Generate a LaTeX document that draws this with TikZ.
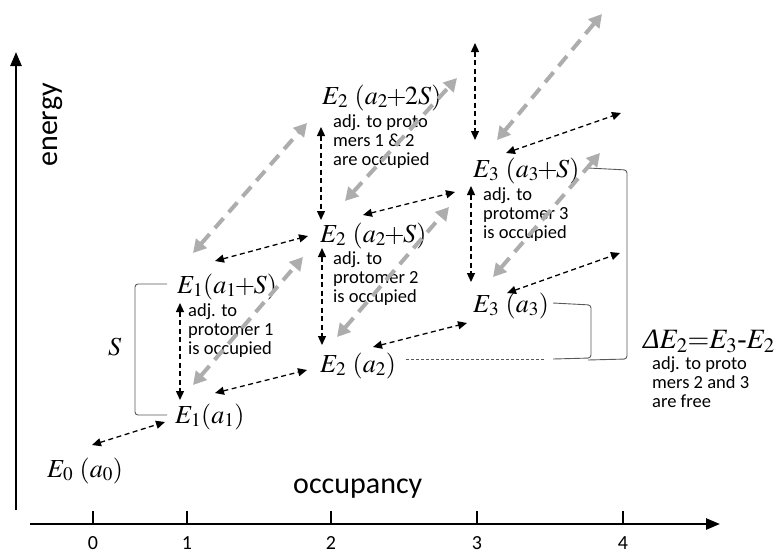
\documentclass[tikz,border=0pt]{standalone}
\usepackage{mathptmx}
\usepackage[no-math]{fontspec}
\setmainfont{Liberation Serif}
\setsansfont{Carlito}
\usepackage{tikz}
\usetikzlibrary{arrows.meta}
\newcommand{\corSeta}{black}
\newcommand{\corCinza}{black!32}
\newcommand{\corChave}{black!65}
\newcommand{\deltaIt}{\mbox{\itshape Δ}}
\newcommand{\mais}{\mkern-1mu{+}\mkern-1mu}
\tikzset{
  seta/.style={draw=\corSeta, line width=1.3pt, dash pattern=on 5pt off 3.5pt,
    {Triangle[length=9pt,width=8pt]}-{Triangle[length=9pt,width=8pt]}},
  cinza/.style={draw=\corCinza, line width=4pt, dash pattern=on 13pt off 8pt,
    {Triangle[length=13pt,width=14pt]}-{Triangle[length=13pt,width=14pt]}},
  chave/.style={draw=\corChave, line width=0.9pt, rounded corners=3pt},
  nivel/.style={anchor=base west, inner sep=0pt, font=\fontsize{26}{26}\selectfont},
  nota/.style={anchor=base west, inner sep=0pt, align=left,
    font=\sffamily\fontsize{18.5}{19}\selectfont},
  eixo/.style={line width=2.5pt, -{Triangle[length=14pt,width=11pt]}},
}
\begin{document}
\begin{tikzpicture}[x=1pt, y=-1pt]
    \useasboundingbox (0,0) rectangle (783,554);

          % eixos
        \draw[eixo] (16,510) -- (16,52);
        \draw[eixo] (30,524) -- (720,524);
        \foreach \x/\t in {93/0, 187/1, 331/2, 477/3, 623/4} {
            \draw[line width=2pt] (\x,524) -- (\x,511);
            \node[anchor=base, inner sep=0pt, font=\sffamily\fontsize{20}{20}\selectfont] (tick\t) at (\x,549) {\t};
        }
        \node[rotate=90, inner sep=0pt, font=\sffamily\fontsize{30}{30}\selectfont] (energia) at (53,125) {energy};
        \node[anchor=base west, inner sep=0pt, font=\sffamily\fontsize{30}{30}\selectfont] (ocupacao) at (293,493) {occupancy};

          % niveis
        \node[nivel] (E0) at (47,477) {$E_0\ (a_0)$};
        \node[nivel] (E1) at (175,423) {$E_1(a_1)$};
        \node[nivel] (E1S) at (177,293) {$E_1(a_1\mais S)$};
        \node[nivel] (E2) at (320,372) {$E_2\ (a_2)$};
        \node[nivel] (E2S) at (320,242) {$E_2\ (a_2\mais S)$};
        \node[nivel] (E2SS) at (322,104) {$E_2\ (a_2\mais 2S)$};
        \node[nivel] (E3S) at (473,177) {$E_3\ (a_3\mais S)$};
        \node[nivel] (E3) at (473,312) {$E_3\ (a_3)$};
        \node[nivel, font=\fontsize{28}{28}\selectfont] (dE) at (643,348) {$\deltaIt E_2{=}E_3\mbox{-}E_2$};
        \node[nivel] (S) at (108,355) {$S$};

          % notas (ancoradas na ultima linha)
        \node[nota] (n1) at (188,354) {adj. to\\protomer 1\\is occupied};
        \node[nota] (n2) at (333,302) {adj. to\\protomer 2\\is occupied};
        \node[nota] (n3) at (333,165) {adj. to proto\\mers 1 \& 2\\are occupied};
        \node[nota] (n4) at (483,238) {adj. to\\protomer 3\\is occupied};
        \node[nota] (n5) at (652,407) {adj. to proto\\mers 2 and 3\\are free};

          % chaves
        \draw[chave] (167,284) -- (135,284) -- (135,415) -- (167,415);
        \draw[chave] (588,168) -- (627,170) -- (627,359) -- (588,360);
        \draw[chave] (553,303) -- (591,305) -- (591,358) -- (553,359);
        \draw[\corChave, line width=0.7pt, dash pattern=on 3pt off 2pt] (406,359) -- (545,359);

          % setas cinza
        \coordinate (gA0) at (193,385); \coordinate (gA1) at (303,257);
        \coordinate (gB0) at (193,253); \coordinate (gB1) at (307,123);
        \coordinate (gC0) at (337,337); \coordinate (gC1) at (449,207);
        \coordinate (gD0) at (345,201); \coordinate (gD1) at (457,78);
        \coordinate (gE0) at (497,140); \coordinate (gE1) at (602,14);
        \coordinate (gF0) at (493,277); \coordinate (gF1) at (600,153);
        \foreach \g in {A,B,C,D,E,F}
            \draw[cinza] (g\g0) -- (g\g1);

          % setas pretas
        \coordinate (s10) at (92,445);  \coordinate (s11) at (165,422);
        \coordinate (s20) at (215,393); \coordinate (s21) at (307,370);
        \coordinate (s30) at (215,261); \coordinate (s31) at (308,236);
        \coordinate (s40) at (373,347); \coordinate (s41) at (467,323);
        \coordinate (s50) at (363,215); \coordinate (s51) at (455,192);
        \coordinate (s60) at (507,293); \coordinate (s61) at (620,253);
        \coordinate (s70) at (506,153); \coordinate (s71) at (621,113);
        \coordinate (v10) at (180,303); \coordinate (v11) at (180,400);
        \coordinate (v20) at (322,248); \coordinate (v21) at (322,345);
        \coordinate (v30) at (321,127); \coordinate (v31) at (321,220);
        \coordinate (v40) at (471,186); \coordinate (v41) at (471,282);
        \coordinate (v50) at (475,43);  \coordinate (v51) at (475,140);
        \foreach \s in {s1,s2,s3,s4,s5,s6,s7,v1,v2,v3,v4,v5}
            \draw[seta] (\s0) -- (\s1);
    \end{tikzpicture}
\end{document}
